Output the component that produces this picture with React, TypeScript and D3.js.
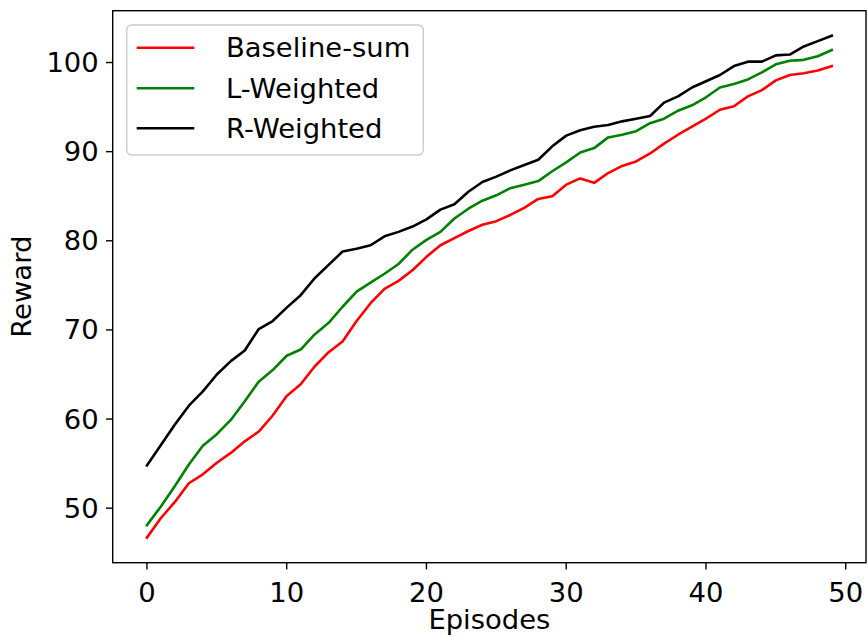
import React from "react";
import * as d3 from "d3";

const episodes: number[] = Array.from({ length: 50 }, (_, i) => i);

const baselineSum: number[] = [
  46.7, 48.9, 50.7, 52.8, 53.8, 55.1, 56.2, 57.5, 58.6, 60.4,
  62.6, 63.9, 65.9, 67.5, 68.7, 71.0, 73.0, 74.6, 75.5, 76.7,
  78.2, 79.5, 80.3, 81.1, 81.8, 82.2, 82.9, 83.7, 84.7, 85.0,
  86.3, 87.0, 86.5, 87.6, 88.4, 88.9, 89.8, 90.9, 91.9, 92.8,
  93.7, 94.7, 95.1, 96.2, 96.9, 98.0, 98.6, 98.8, 99.1, 99.6,
];

const lWeighted: number[] = [
  48.1, 50.2, 52.5, 54.9, 57.0, 58.3, 59.9, 62.0, 64.2, 65.5,
  67.1, 67.8, 69.5, 70.8, 72.6, 74.3, 75.3, 76.3, 77.4, 79.0,
  80.1, 81.0, 82.5, 83.6, 84.5, 85.1, 85.9, 86.3, 86.7, 87.8,
  88.8, 89.9, 90.4, 91.6, 91.9, 92.3, 93.2, 93.7, 94.6, 95.2,
  96.1, 97.2, 97.6, 98.1, 98.9, 99.8, 100.2, 100.3, 100.7, 101.4,
];

const rWeighted: number[] = [
  54.8, 57.1, 59.4, 61.5, 63.1, 65.0, 66.5, 67.7, 70.1, 71.0,
  72.5, 73.9, 75.8, 77.3, 78.8, 79.1, 79.5, 80.5, 81.0, 81.6,
  82.4, 83.5, 84.1, 85.5, 86.6, 87.2, 87.9, 88.5, 89.1, 90.6,
  91.8, 92.4, 92.8, 93.0, 93.4, 93.7, 94.0, 95.5, 96.2, 97.2,
  97.9, 98.6, 99.6, 100.1, 100.1, 100.8, 100.9, 101.8, 102.4, 103.0,
];

const seriesNames: string[] = ["Baseline-sum", "L-Weighted", "R-Weighted"];
const seriesColors: string[] = ["#ff0000", "#008000", "#000000"];
const xTicks: number[] = [0, 10, 20, 30, 40, 50];
const yTicks: number[] = [50, 60, 70, 80, 90, 100];

const W = 868;
const H = 636;
const M = { left: 112.7, right: 866, top: 10.7, bottom: 562.7 };
const FONT = "'DejaVu Sans', sans-serif";
const FS = 27.4;

export default function App() {
  const allSeries = [baselineSum, lWeighted, rWeighted];
  const allVals = allSeries.flat();
  const yMin = d3.min(allVals) as number;
  const yMax = d3.max(allVals) as number;
  const yPad = (yMax - yMin) * 0.05;
  const xPad = (episodes[episodes.length - 1] - episodes[0]) * 0.05;

  const x = d3
    .scaleLinear()
    .domain([episodes[0] - xPad, episodes[episodes.length - 1] + xPad])
    .range([M.left, M.right]);
  const y = d3
    .scaleLinear()
    .domain([yMin - yPad, yMax + yPad])
    .range([M.bottom, M.top]);

  const line = d3
    .line<number>()
    .x((_, i) => x(episodes[i]))
    .y((d) => y(d));

  const legendX = 126.7;
  const legendY = 25;
  const legendW = 296.6;
  const legendH = 130;
  const rowY = [47.7, 88.3, 128.3];

  return (
    <svg
      width={W}
      height={H}
      style={{ position: "absolute", left: 0, top: 0, background: "#fff" }}
      fontFamily={FONT}
    >
      <rect x={0} y={0} width={W} height={H} fill="#fff" />
      <defs>
        <clipPath id="plotclip">
          <rect x={M.left} y={M.top} width={M.right - M.left} height={M.bottom - M.top} />
        </clipPath>
      </defs>
      <g clipPath="url(#plotclip)">
        {allSeries.map((s, k) => (
          <path
            key={k}
            d={line(s) || ""}
            fill="none"
            stroke={seriesColors[k]}
            strokeWidth={2.6}
            strokeLinejoin="round"
            strokeLinecap="square"
          />
        ))}
      </g>
      <rect
        x={M.left}
        y={M.top}
        width={M.right - M.left}
        height={M.bottom - M.top}
        fill="none"
        stroke="#000"
        strokeWidth={1.4}
      />
      {xTicks.map((t) => (
        <g key={"x" + t}>
          <line x1={x(t)} x2={x(t)} y1={M.bottom} y2={M.bottom + 6.7} stroke="#000" strokeWidth={1.4} />
          <text x={x(t)} y={M.bottom + 19} textAnchor="middle" dominantBaseline="hanging" fontSize={FS} fill="#000">
            {t}
          </text>
        </g>
      ))}
      {yTicks.map((t) => (
        <g key={"y" + t}>
          <line x1={M.left - 6.7} x2={M.left} y1={y(t)} y2={y(t)} stroke="#000" strokeWidth={1.4} />
          <text x={M.left - 14} y={y(t)} textAnchor="end" dominantBaseline="central" fontSize={FS} fill="#000">
            {t}
          </text>
        </g>
      ))}
      <text x={(M.left + M.right) / 2} y={629} textAnchor="middle" fontSize={FS} fill="#000">
        Episodes
      </text>
      <text
        transform={`translate(${31},${(M.top + M.bottom) / 2}) rotate(-90)`}
        textAnchor="middle"
        fontSize={FS}
        fill="#000"
      >
        Reward
      </text>
      <rect
        x={legendX}
        y={legendY}
        width={legendW}
        height={legendH}
        rx={5}
        ry={5}
        fill="#fff"
        fillOpacity={0.8}
        stroke="#cccccc"
        strokeWidth={1.4}
      />
      {seriesNames.map((n, k) => (
        <g key={n}>
          <line x1={136.7} x2={194.3} y1={rowY[k]} y2={rowY[k]} stroke={seriesColors[k]} strokeWidth={2.6} />
          <text x={226} y={rowY[k]} dominantBaseline="central" fontSize={FS} fill="#000">
            {n}
          </text>
        </g>
      ))}
    </svg>
  );
}
